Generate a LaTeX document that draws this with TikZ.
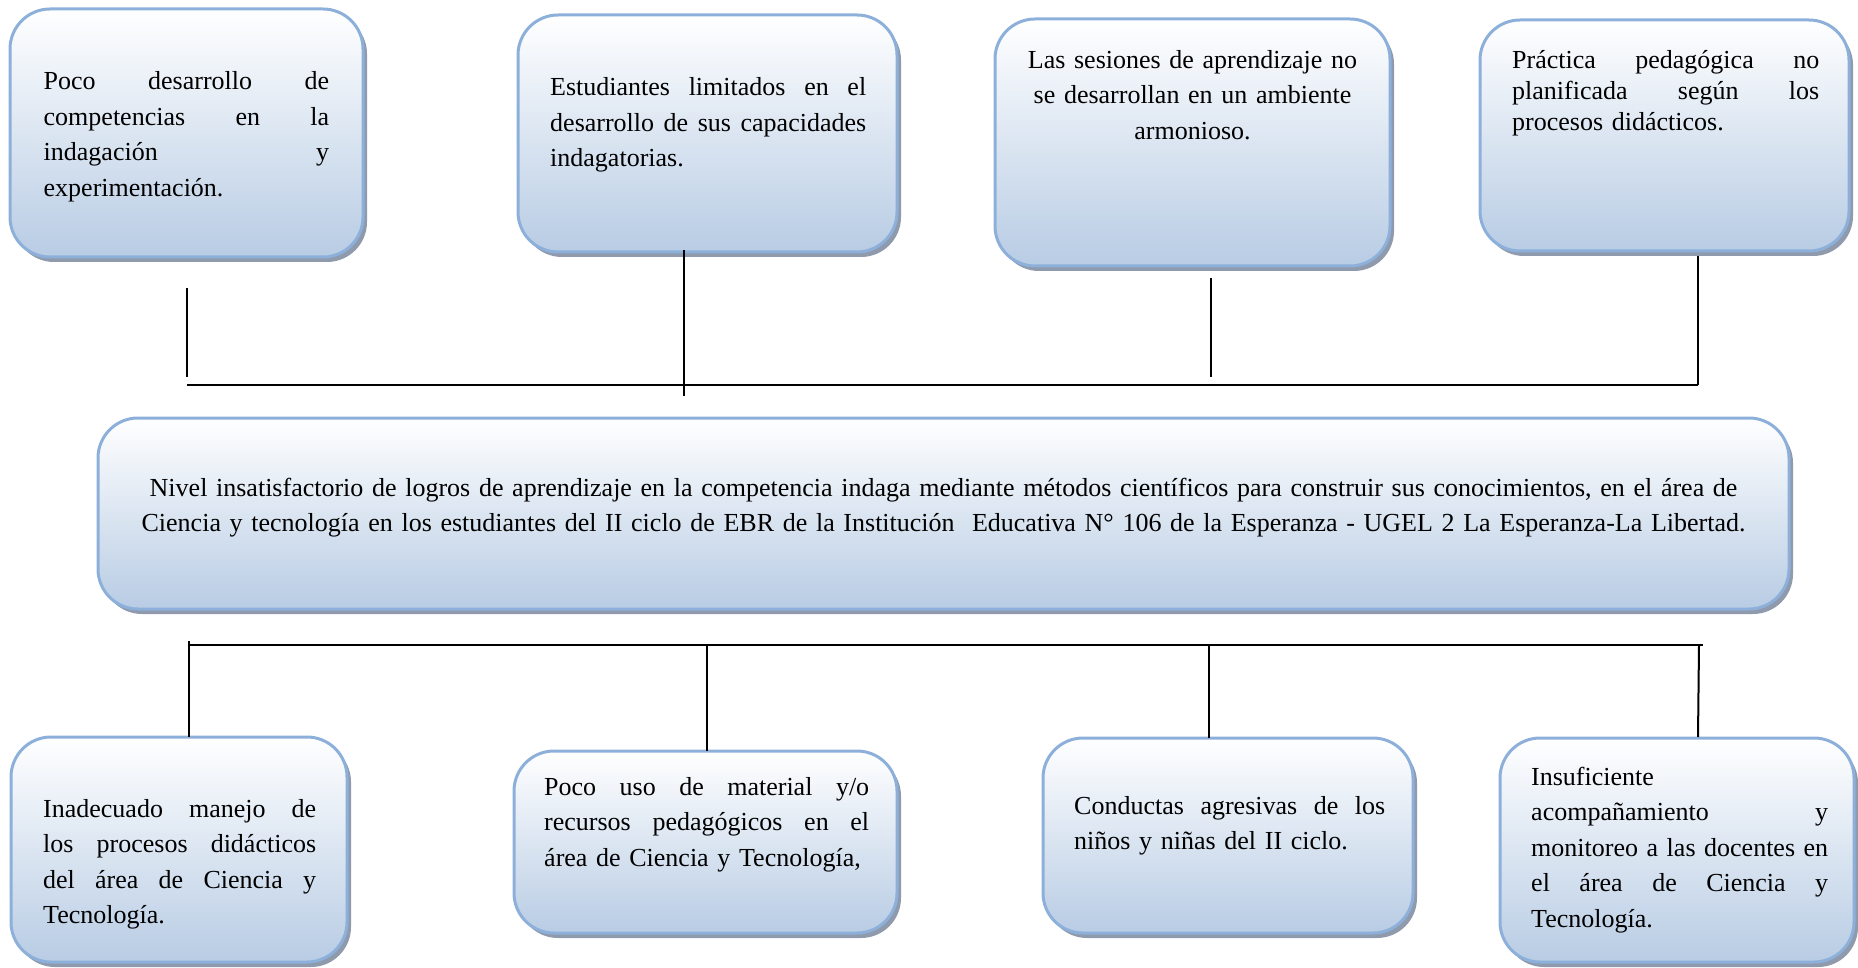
\documentclass[tikz,border=0pt]{standalone}
\usepackage{fontspec}
\setmainfont{Liberation Serif}
\usetikzlibrary{shadows}
\definecolor{bord}{RGB}{141,176,219}
\definecolor{shad}{RGB}{143,155,173}
\definecolor{gbot}{RGB}{184,204,228}
\newcommand{\jl}[2]{\leavevmode\hbox to #1{\spaceskip=0.25em plus 1fil\relax #2}}
\begin{document}
\begin{tikzpicture}[x=1pt,y=-1pt,
  cbox/.style={draw=bord, line width=3pt, rounded corners=40pt,
    top color=white, bottom color=gbot,
    drop shadow={shadow xshift=4pt, shadow yshift=-5pt, fill=shad, opacity=1},
    inner sep=0pt},
  txt/.style={inner sep=0pt, anchor=base west, align=left,
    font=\fontsize{26}{35.5}\selectfont},
  ctxt/.style={inner sep=0pt, anchor=base, align=center,
    font=\fontsize{26}{35.5}\selectfont},
  conn/.style={line width=2pt, black}]
\useasboundingbox (0,0) rectangle (1858,968);
% boxes
\node[cbox, minimum width=353, minimum height=248] (b1) at (186.5,133) {};
\node[cbox, minimum width=379, minimum height=237] (b2) at (707.5,133.5) {};
\node[cbox, minimum width=395, minimum height=247] (b3) at (1192.5,142.5) {};
\node[cbox, minimum width=369, minimum height=231] (b4) at (1664.5,135.5) {};
\node[cbox, minimum width=1691, minimum height=191] (c) at (943.5,513.5) {};
\node[cbox, minimum width=336, minimum height=225] (b5) at (179,849.5) {};
\node[cbox, minimum width=383, minimum height=182] (b6) at (705.5,842) {};
\node[cbox, minimum width=370, minimum height=195] (b7) at (1228,835.5) {};
\node[cbox, minimum width=354, minimum height=224] (b8) at (1677,850) {};
% texts
\node[txt, text width=285.5] (t1) at (43.5,90) {\jl{285.5pt}{Poco desarrollo de}\\\jl{285.5pt}{competencias en la}\\\jl{285.5pt}{indagación y}\\experimentación.};
\node[txt, text width=316] (t2) at (550,96) {\jl{316pt}{Estudiantes limitados en el}\\\jl{316pt}{desarrollo de sus capacidades}\\indagatorias.};
\node[ctxt, text width=340] (t3) at (1192.5,68.5) {Las sesiones de aprendizaje no\\se desarrollan en un ambiente\\armonioso.};
\node[txt, text width=307, font=\fontsize{26}{31}\selectfont] (t4) at (1512,68.5) {\jl{307pt}{Práctica pedagógica no}\\\jl{307pt}{planificada según los}\\procesos didácticos.};
\node[ctxt, text width=1660] (tc) at (943.5,496) {Nivel insatisfactorio de logros de aprendizaje en la competencia indaga mediante métodos científicos para construir sus conocimientos, en el área de\\Ciencia y tecnología en los estudiantes del II ciclo de EBR de la Institución\ \ Educativa N° 106 de la Esperanza - UGEL 2 La Esperanza-La Libertad.};
\node[txt, text width=273] (t5) at (43,817) {\jl{273pt}{Inadecuado manejo de}\\\jl{273pt}{los procesos didácticos}\\\jl{273pt}{del área de Ciencia y}\\Tecnología.};
\node[txt, text width=325] (t6) at (544,795) {\jl{325pt}{Poco uso de material y/o}\\\jl{325pt}{recursos pedagógicos en el}\\área de Ciencia y Tecnología,};
\node[txt, text width=311] (t7) at (1074,814) {\jl{311pt}{Conductas agresivas de los}\\niños y niñas del II ciclo.};
\node[txt, text width=297] (t8) at (1531,785) {Insuficiente\\\jl{297pt}{acompañamiento y}\\\jl{297pt}{monitoreo a las docentes en}\\\jl{297pt}{el área de Ciencia y}\\Tecnología.};
% connector points (top)
\coordinate (u1) at (187,288);  \coordinate (d1) at (187,377);
\coordinate (u2) at (684,250);  \coordinate (d2) at (684,396);
\coordinate (u3) at (1211,278); \coordinate (d3) at (1211,377);
\coordinate (u4) at (1698,256); \coordinate (d4) at (1698,385);
\coordinate (hl) at (187,385);
% connector points (bottom)
\coordinate (p1) at (189,641);  \coordinate (q1) at (189,737);
\coordinate (p2) at (707,645);  \coordinate (q2) at (707,751);
\coordinate (p3) at (1209,645); \coordinate (q3) at (1209,738);
\coordinate (p4) at (1699,645); \coordinate (q4) at (1698,737);
\coordinate (gl) at (189,645);  \coordinate (gr) at (1703,645);
\draw[conn] (u1) -- (d1);
\draw[conn] (u2) -- (d2);
\draw[conn] (u3) -- (d3);
\draw[conn] (u4) -- (d4);
\draw[conn] (hl) -- (d4);
\draw[conn] (gl) -- (gr);
\draw[conn] (p1) -- (q1);
\draw[conn] (p2) -- (q2);
\draw[conn] (p3) -- (q3);
\draw[conn] (p4) -- (q4);
\end{tikzpicture}
\end{document}
